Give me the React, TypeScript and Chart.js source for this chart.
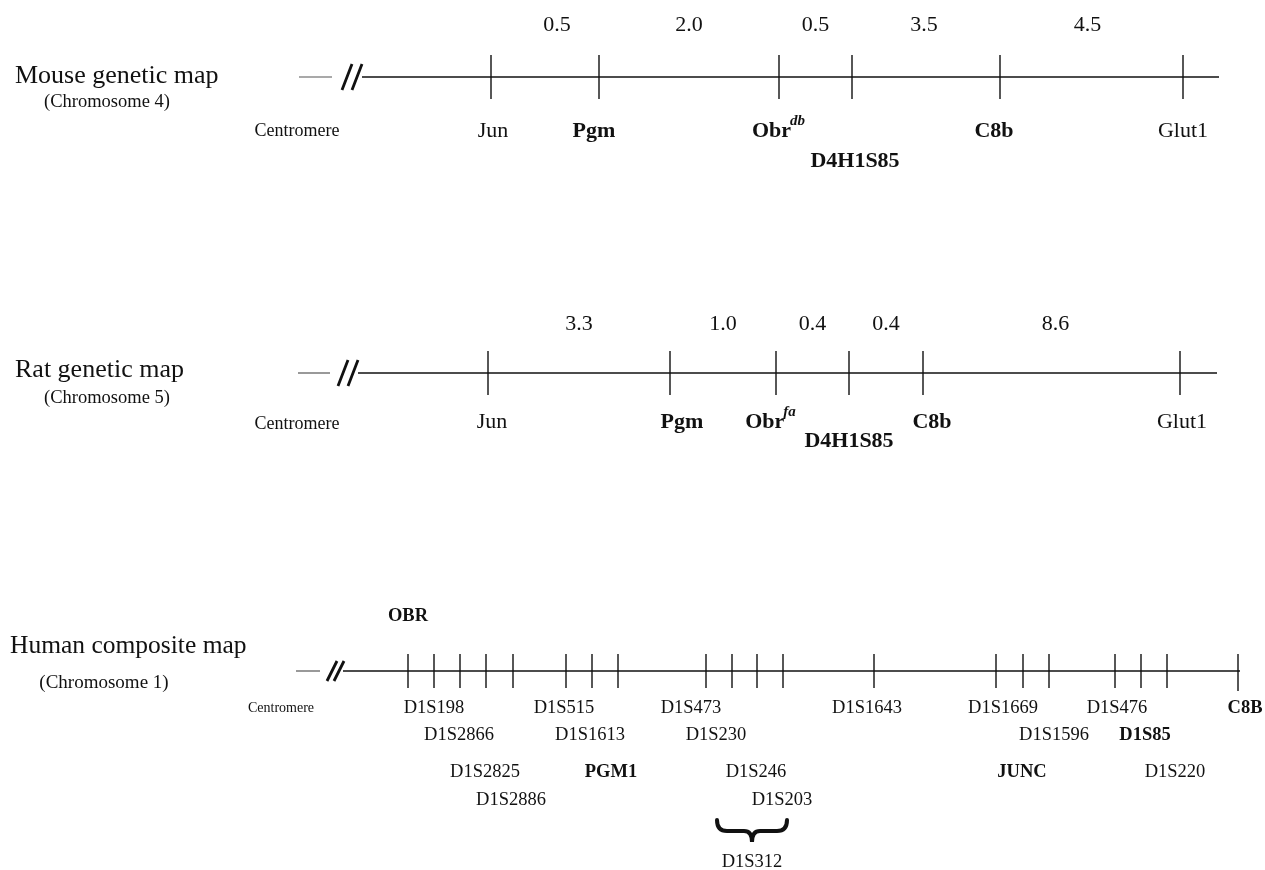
import React, { useEffect, useRef } from "react";
import { Chart, registerables } from "chart.js";

Chart.register(...registerables);

const W = 1265;
const H = 870;

// ---------- DATA ----------
// Mouse genetic map (chromosome 4)
const mouseMarkers = ["Jun", "Pgm", "Obr", "D4H1S85", "C8b", "Glut1"];
const mousePositions = [491, 599, 779, 852, 1000, 1183];
const mouseIntervals = ["0.5", "2.0", "0.5", "3.5", "4.5"];
const mouseBold = [false, true, true, true, true, false];
const mouseSuper = ["", "", "db", "", "", ""];
const mouseRow = [0, 0, 0, 1, 0, 0];

// Rat genetic map (chromosome 5)
const ratMarkers = ["Jun", "Pgm", "Obr", "D4H1S85", "C8b", "Glut1"];
const ratPositions = [488, 670, 776, 849, 923, 1180];
const ratIntervals = ["3.3", "1.0", "0.4", "0.4", "8.6"];
const ratBold = [false, true, true, true, true, false];
const ratSuper = ["", "", "fa", "", "", ""];
const ratRow = [0, 0, 0, 1, 0, 0];

// Human composite map (chromosome 1)
const humanPositions = [408, 434, 460, 486, 513, 566, 592, 618, 706, 732, 757, 783, 874, 996, 1023, 1049, 1115, 1141, 1167, 1238];
const humanMarkers = [
  "OBR", "D1S198", "D1S2866", "D1S2825", "D1S2886", "D1S515", "D1S1613", "PGM1",
  "D1S473", "D1S230", "D1S246", "D1S203", "D1S1643", "D1S1669", "JUNC", "D1S1596",
  "D1S476", "D1S85", "D1S220", "C8B",
];
const humanBold = [true, false, false, false, false, false, false, true, false, false, false, false, false, false, true, false, false, true, false, true];
const humanRow = [-1, 0, 1, 2, 3, 0, 1, 2, 0, 1, 2, 3, 0, 0, 2, 1, 0, 1, 2, 0];
const humanGroupName = "D1S312";
const humanGroupSpan = [8, 11]; // marker indices covered by the brace

// ---------- LAYOUT ----------
const SERIF = "'Liberation Serif', 'Times New Roman', serif";
const INK = "#111";

const L = {
  mouse: {
    title: "Mouse genetic map", sub: "(Chromosome 4)", titleX: 15, titleY: 76, subX: 107, subY: 102,
    axisY: 77, tickH: 22, dash: [299, 332], slash: [342, 352], slashH: 13, lineStart: 362, lineEnd: 1219,
    numY: 25, rowY: [131, 161], centX: 297, centY: 131, centSize: 18,
    labelDx: [2, -5, 0, 3, -6, 0], numDx: [12, 0, 0, -2, -4],
  },
  rat: {
    title: "Rat genetic map", sub: "(Chromosome 5)", titleX: 15, titleY: 370, subX: 107, subY: 398,
    axisY: 373, tickH: 22, dash: [298, 330], slash: [338, 348], slashH: 13, lineStart: 358, lineEnd: 1217,
    numY: 324, rowY: [422, 441], centX: 297, centY: 424, centSize: 18,
    labelDx: [4, 12, -5, 0, 9, 2], numDx: [0, 0, 0, 0, 4],
  },
  human: {
    title: "Human composite map", sub: "(Chromosome 1)", titleX: 10, titleY: 646, subX: 104, subY: 683,
    axisY: 671, tickH: 17, dash: [296, 320], slash: [327, 334], slashH: 10, lineStart: 343, lineEnd: 1240,
    aboveY: 616, rowY: [708, 735, 772, 800], centX: 281, centY: 708, centSize: 14,
    labelDx: [0, 0, -1, -1, -2, -2, -2, -7, -15, -16, -1, -1, -7, 7, -1, 5, 2, 4, 8, 7],
    braceY: [820, 842], braceDx: [11, 4], groupY: 862,
  },
};

type Seg = { x: number; y: number | null }[];

function segs(pairs: [number, number, number, number][]): Seg {
  const out: Seg = [];
  pairs.forEach(([x1, y1, x2, y2]) => {
    out.push({ x: x1, y: y1 }, { x: x2, y: y2 }, { x: x2, y: null });
  });
  return out;
}

function mapDatasets(lay: any, positions: number[], lastLonger = -1) {
  const y = lay.axisY;
  const ticks: [number, number, number, number][] = positions.map((p, i) => {
    const extra = i === lastLonger ? 3 : 0;
    return [p, y - lay.tickH, p, y + lay.tickH + extra];
  });
  const slashes: [number, number, number, number][] = [
    [lay.slash[0], y + lay.slashH, lay.slash[0] + 10, y - lay.slashH],
    [lay.slash[1], y + lay.slashH, lay.slash[1] + 10, y - lay.slashH],
  ];
  const common = { type: "line" as const, pointRadius: 0, fill: false, spanGaps: false, tension: 0 };
  return [
    { ...common, data: segs([[lay.lineStart, y, lay.lineEnd, y]]), borderColor: INK, borderWidth: 1.4 },
    { ...common, data: segs([[lay.dash[0], y, lay.dash[1], y]]), borderColor: "#555", borderWidth: 1.2 },
    { ...common, data: segs(slashes), borderColor: INK, borderWidth: 2.8 },
    { ...common, data: segs(ticks), borderColor: INK, borderWidth: 1.4 },
  ];
}

const textPlugin = {
  id: "mapText",
  afterDatasetsDraw(chart: any) {
    const ctx = chart.ctx as CanvasRenderingContext2D;
    const xs = chart.scales.x;
    const ys = chart.scales.y;
    const px = (v: number) => xs.getPixelForValue(v);
    const py = (v: number) => ys.getPixelForValue(v);
    ctx.save();
    ctx.fillStyle = INK;
    ctx.textBaseline = "middle";

    const text = (s: string, x: number, y: number, size: number, bold = false, align: CanvasTextAlign = "center", italic = false) => {
      ctx.font = `${italic ? "italic " : ""}${bold ? "bold " : ""}${size}px ${SERIF}`;
      ctx.textAlign = align;
      ctx.fillText(s, px(x), py(y));
    };

    const labelWithSup = (s: string, sup: string, x: number, y: number, size: number, bold: boolean) => {
      ctx.font = `${bold ? "bold " : ""}${size}px ${SERIF}`;
      const w1 = ctx.measureText(s).width;
      ctx.font = `italic bold ${Math.round(size * 0.68)}px ${SERIF}`;
      const w2 = sup ? ctx.measureText(sup).width : 0;
      const left = px(x) - (w1 + w2) / 2;
      ctx.textAlign = "left";
      ctx.font = `${bold ? "bold " : ""}${size}px ${SERIF}`;
      ctx.fillText(s, left, py(y));
      if (sup) {
        ctx.font = `italic bold ${Math.round(size * 0.68)}px ${SERIF}`;
        ctx.fillText(sup, left + w1 - 1, py(y) - size * 0.45);
      }
    };

    const drawAnimalMap = (lay: any, markers: string[], pos: number[], intervals: string[], bold: boolean[], sup: string[], row: number[]) => {
      text(lay.title, lay.titleX, lay.titleY, 26, false, "left");
      text(lay.sub, lay.subX, lay.subY, 18.5, false, "center");
      text("Centromere", lay.centX, lay.centY, lay.centSize, false, "center");
      intervals.forEach((v, i) => {
        const mid = (pos[i] + pos[i + 1]) / 2 + lay.numDx[i];
        text(v, mid, lay.numY, 22, false, "center");
      });
      markers.forEach((m, i) => {
        labelWithSup(m, sup[i], pos[i] + lay.labelDx[i], lay.rowY[row[i]], 22, bold[i]);
      });
    };

    drawAnimalMap(L.mouse, mouseMarkers, mousePositions, mouseIntervals, mouseBold, mouseSuper, mouseRow);
    drawAnimalMap(L.rat, ratMarkers, ratPositions, ratIntervals, ratBold, ratSuper, ratRow);

    const h = L.human;
    text(h.title, h.titleX, h.titleY, 25.5, false, "left");
    text(h.sub, h.subX, h.subY, 19, false, "center");
    text("Centromere", h.centX, h.centY, h.centSize, false, "center");
    humanMarkers.forEach((m, i) => {
      const y = humanRow[i] < 0 ? h.aboveY : h.rowY[humanRow[i]];
      text(m, humanPositions[i] + h.labelDx[i], y, 18.5, humanBold[i], "center");
    });

    // brace below the D1S312 group
    const bx1 = px(humanPositions[humanGroupSpan[0]] + h.braceDx[0]);
    const bx2 = px(humanPositions[humanGroupSpan[1]] + h.braceDx[1]);
    const by1 = py(h.braceY[0]);
    const by2 = py(h.braceY[1]);
    const bm = (bx1 + bx2) / 2;
    const bmid = (by1 + by2) / 2;
    ctx.strokeStyle = INK;
    ctx.lineWidth = 4;
    ctx.lineCap = "round";
    ctx.beginPath();
    ctx.moveTo(bx1, by1);
    ctx.quadraticCurveTo(bx1, bmid, bx1 + 10, bmid);
    ctx.lineTo(bm - 8, bmid);
    ctx.quadraticCurveTo(bm, bmid, bm, by2);
    ctx.quadraticCurveTo(bm, bmid, bm + 8, bmid);
    ctx.lineTo(bx2 - 10, bmid);
    ctx.quadraticCurveTo(bx2, bmid, bx2, by1);
    ctx.stroke();
    text(humanGroupName, (humanPositions[humanGroupSpan[0]] + h.braceDx[0] + humanPositions[humanGroupSpan[1]] + h.braceDx[1]) / 2, h.groupY, 18.5, false, "center");

    ctx.restore();
  },
};

export default function App() {
  const ref = useRef<HTMLCanvasElement | null>(null);
  useEffect(() => {
    if (!ref.current) return;
    const datasets = [
      ...mapDatasets(L.mouse, mousePositions),
      ...mapDatasets(L.rat, ratPositions),
      ...mapDatasets(L.human, humanPositions, humanPositions.length - 1),
    ];
    const chart = new Chart(ref.current, {
      type: "line",
      data: { datasets: datasets as any },
      options: {
        animation: false,
        responsive: false,
        maintainAspectRatio: false,
        layout: { padding: 0 },
        events: [],
        scales: {
          x: { type: "linear", min: 0, max: W, display: false },
          y: { type: "linear", min: 0, max: H, reverse: true, display: false },
        },
        plugins: { legend: { display: false }, tooltip: { enabled: false } },
      },
      plugins: [textPlugin],
    });
    return () => chart.destroy();
  }, []);
  return (
    <div style={{ position: "absolute", left: 0, top: 0, width: W, height: H, background: "#fff" }}>
      <canvas ref={ref} width={W} height={H} style={{ display: "block" }} />
    </div>
  );
}
